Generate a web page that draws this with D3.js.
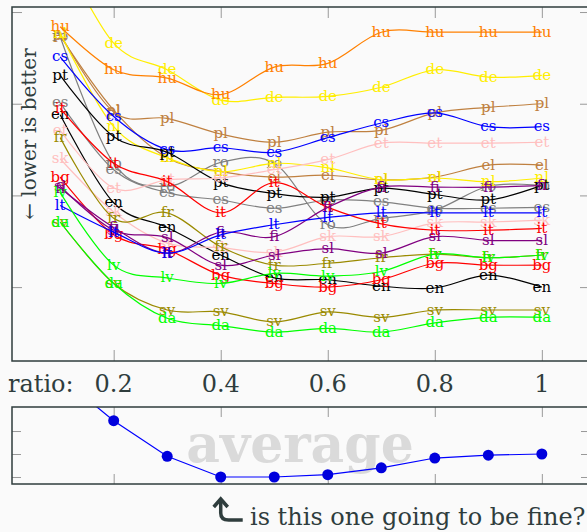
<!DOCTYPE html>
<meta charset="utf-8">
<html>
<head>
<style>
  body { margin: 0; background: #fafafa; }
  svg text { font-family: "DejaVu Serif", serif; }
  .tick line { stroke: #999; }
</style>
</head>
<body>
<script src="https://d3js.org/d3.v7.min.js"></script>
<script>
// x values of every run
var ratios = [0.1, 0.2, 0.3, 0.4, 0.5, 0.6, 0.7, 0.8, 0.9, 1.0];
var xTicks = [0.2, 0.4, 0.6, 0.8, 1];
var xTickLabels = ["0.2", "0.4", "0.6", "0.8", "1"];
var yTicks = [10, 20, 30, 40];
var avgTicks = [18, 20, 22];

// per-language scores (no units on the original axis)
var ro = [37.3, 23.5, 21.0, 23.6, 23.5, 16.8, 17.5, 18.4, 21.0, 21.1];
var es = [30.1, 22.8, 20.3, 19.5, 18.6, 19.5, 19.3, 18.6, 18.6, 18.7];
var el = [37.4, 29.3, 24.1, 22.6, 22.0, 22.2, 21.7, 22.0, 23.3, 23.3];
var pl = [37.6, 29.1, 28.4, 26.7, 25.8, 26.9, 27.1, 29.0, 29.6, 30.0];
var nl = [37.7, 27.5, 24.1, 22.6, 23.5, 23.0, 21.7, 21.9, 21.5, 21.9];
var de = [46.8, 36.6, 33.7, 30.4, 30.7, 30.8, 31.8, 33.7, 32.9, 33.1];
var cs = [35.1, 28.6, 25.0, 25.2, 24.7, 26.3, 27.9, 29.0, 27.5, 27.5];
var pt = [33.1, 26.4, 24.7, 21.4, 20.2, 19.8, 20.8, 20.1, 19.5, 21.1];
var en = [28.8, 19.2, 16.5, 13.5, 11.0, 10.8, 10.1, 9.9, 11.3, 10.0];
var et = [27.1, 20.8, 21.7, 21.9, 22.8, 23.9, 25.7, 25.7, 25.7, 25.8];
var sk = [24.0, 18.2, 14.8, 14.3, 13.8, 15.5, 15.5, 17.0, 17.1, 17.3];
var fr = [26.3, 17.5, 18.1, 14.4, 12.4, 12.6, 13.2, 13.6, 13.2, 13.5];
var it = [29.5, 23.5, 21.5, 18.1, 21.4, 18.7, 16.9, 16.2, 16.2, 16.4];
var bg = [22.0, 15.7, 14.1, 11.3, 10.4, 10.0, 10.8, 12.6, 12.4, 12.4];
var sl = [21.0, 16.2, 15.4, 12.4, 13.5, 14.2, 13.7, 15.5, 15.1, 15.1];
var fi = [20.8, 16.5, 13.7, 16.0, 15.5, 18.7, 20.9, 20.9, 20.9, 21.1];
var lt = [18.9, 16.0, 13.7, 15.7, 16.8, 17.6, 18.1, 18.1, 18.1, 18.1];
var lv = [20.3, 12.4, 11.0, 10.4, 11.5, 11.2, 11.7, 13.6, 13.2, 13.5];
var sv = [17.1, 10.4, 7.5, 7.3, 6.2, 7.3, 6.7, 7.5, 7.5, 7.5];
var da = [17.1, 10.4, 6.6, 5.8, 5.1, 5.5, 5.1, 6.1, 6.7, 6.7];
var hu = [38.4, 33.7, 32.8, 31.0, 34.0, 34.4, 37.8, 37.8, 37.8, 37.8];

var average = [26.7, 22.9, 19.8, 18.0, 18.0, 18.2, 18.8, 19.65, 19.9, 20.0];

var series = [
  {lang: "ro", values: ro}, {lang: "es", values: es}, {lang: "el", values: el},
  {lang: "pl", values: pl}, {lang: "nl", values: nl}, {lang: "de", values: de},
  {lang: "cs", values: cs}, {lang: "pt", values: pt}, {lang: "en", values: en},
  {lang: "et", values: et}, {lang: "sk", values: sk}, {lang: "fr", values: fr},
  {lang: "it", values: it}, {lang: "bg", values: bg}, {lang: "sl", values: sl},
  {lang: "fi", values: fi}, {lang: "lt", values: lt}, {lang: "lv", values: lv},
  {lang: "sv", values: sv}, {lang: "da", values: da}, {lang: "hu", values: hu}
];

var colors = {
  hu: "#ff8000", de: "#ffee00", nl: "#ffee00", cs: "#0000ff", lt: "#0000ff",
  pt: "#000000", en: "#000000", es: "#808080", ro: "#808080",
  pl: "#bf8040", el: "#bf8040", it: "#ff0000", bg: "#ff0000",
  et: "#ffbfbf", sk: "#ffbfbf", fr: "#9a8a00", sv: "#9a8a00",
  sl: "#800080", fi: "#800080", lv: "#00ff00", da: "#00ff00"
};

var ink = "#2f3d3d";
var W = 587, H = 532;
var left = 12, right = 590;
var top1 = 7, bot1 = 361, top2 = 407, bot2 = 484;

var svg = d3.select("body").append("svg")
    .attr("width", W)
    .attr("height", H);

var x = d3.scaleLinear().domain([0.01, 1.09]).range([left, right]);
var y = d3.scaleLinear().domain([1.94, 40.55]).range([bot1, top1]);
var y2 = d3.scaleLinear().domain([17.39, 24.09]).range([bot2, top2]);

svg.append("clipPath").attr("id", "clip1")
  .append("rect").attr("x", left).attr("y", top1)
  .attr("width", right - left).attr("height", bot1 - top1);
svg.append("clipPath").attr("id", "clip2")
  .append("rect").attr("x", left).attr("y", top2)
  .attr("width", right - left).attr("height", bot2 - top2);

// ticks only, no domain line or labels
function ticks(g) { g.select(".domain").remove(); g.selectAll("text").remove(); }

svg.append("g").attr("transform", "translate(0," + top1 + ")")
  .call(d3.axisTop(x).tickValues(xTicks).tickSize(-11)).call(ticks);
svg.append("g").attr("transform", "translate(0," + bot1 + ")")
  .call(d3.axisBottom(x).tickValues(xTicks).tickSize(-11)).call(ticks);
svg.append("g").attr("transform", "translate(" + left + ",0)")
  .call(d3.axisLeft(y).tickValues(yTicks).tickSize(-10)).call(ticks);
svg.append("g").attr("transform", "translate(" + right + ",0)")
  .call(d3.axisRight(y).tickValues(yTicks).tickSize(-10)).call(ticks);

// x labels
svg.append("g").selectAll("text")
  .data(xTicks)
  .enter().append("text")
  .attr("x", function(d) { return x(d); })
  .attr("y", 392)
  .attr("text-anchor", "middle")
  .style("font-size", "24px")
  .style("fill", ink)
  .text(function(d, i) { return xTickLabels[i]; });

svg.append("text")
  .attr("x", 8).attr("y", 392)
  .style("font-size", "24px")
  .style("fill", ink)
  .text("ratio:");

svg.append("text")
  .attr("transform", "translate(36,134) rotate(-90)")
  .attr("text-anchor", "middle")
  .style("font-size", "20px")
  .style("fill", ink)
  .text("\u2190 lower is better");

// lines + labels
var line = d3.line()
  .x(function(d, i) { return x(ratios[i]); })
  .y(function(d) { return y(d); })
  .curve(d3.curveCardinal.tension(0));

var plot = svg.append("g").attr("clip-path", "url(#clip1)");
var yMax = y.domain()[1];

series.forEach(function(s) {
  plot.append("path")
    .datum(s.values)
    .attr("fill", "none")
    .attr("stroke", colors[s.lang])
    .attr("stroke-width", 1.2)
    .attr("d", line);
  var pts = s.values
    .map(function(v, i) { return {r: ratios[i], v: v}; })
    .filter(function(p) { return p.v <= yMax; });
  plot.selectAll(null)
    .data(pts)
    .enter().append("text")
    .attr("x", function(d) { return x(d.r); })
    .attr("y", function(d) { return y(d.v); })
    .attr("dy", "0.3em")
    .attr("text-anchor", "middle")
    .style("font-size", "15px")
    .style("fill", colors[s.lang])
    .text(s.lang);
});

svg.append("rect")
  .attr("x", left).attr("y", top1)
  .attr("width", right - left).attr("height", bot1 - top1)
  .attr("fill", "none").attr("stroke", ink).attr("stroke-width", 1.5);

// bottom panel: average
svg.append("g").attr("transform", "translate(0," + top2 + ")")
  .call(d3.axisTop(x).tickValues(xTicks).tickSize(-10)).call(ticks);
svg.append("g").attr("transform", "translate(0," + bot2 + ")")
  .call(d3.axisBottom(x).tickValues(xTicks).tickSize(-10)).call(ticks);
svg.append("g").attr("transform", "translate(" + left + ",0)")
  .call(d3.axisLeft(y2).tickValues(avgTicks).tickSize(-9)).call(ticks);
svg.append("g").attr("transform", "translate(" + right + ",0)")
  .call(d3.axisRight(y2).tickValues(avgTicks).tickSize(-9)).call(ticks);

svg.append("text")
  .attr("x", 300).attr("y", 462)
  .attr("text-anchor", "middle")
  .style("font-size", "52px")
  .style("font-weight", "bold")
  .style("fill", "#dadada")
  .text("average");

var avgPlot = svg.append("g").attr("clip-path", "url(#clip2)");
avgPlot.append("path")
  .datum(average)
  .attr("fill", "none")
  .attr("stroke", "#0000ff")
  .attr("stroke-width", 1.2)
  .attr("d", d3.line()
    .x(function(d, i) { return x(ratios[i]); })
    .y(function(d) { return y2(d); }));
avgPlot.selectAll("circle")
  .data(average)
  .enter().append("circle")
  .attr("cx", function(d, i) { return x(ratios[i]); })
  .attr("cy", function(d) { return y2(d); })
  .attr("r", 5.5)
  .attr("fill", "#0000dd");

svg.append("rect")
  .attr("x", left).attr("y", top2)
  .attr("width", right - left).attr("height", bot2 - top2)
  .attr("fill", "none").attr("stroke", ink).attr("stroke-width", 1.5);

// annotation
var ax = x(0.4);
svg.append("path")
  .attr("d", "M" + ax + ",501 L" + ax + ",513 Q" + ax + ",520 " + (ax + 8) + ",520 L" + (ax + 22) + ",520")
  .attr("fill", "none").attr("stroke", ink).attr("stroke-width", 3.5);
svg.append("path")
  .attr("d", "M" + (ax - 7) + ",507 L" + ax + ",499 L" + (ax + 7) + ",507")
  .attr("fill", "none").attr("stroke", ink).attr("stroke-width", 3.5);

svg.append("text")
  .attr("x", 250).attr("y", 525)
  .style("font-size", "24px")
  .style("fill", ink)
  .text("is this one going to be fine?");
</script>
</body>
</html>
